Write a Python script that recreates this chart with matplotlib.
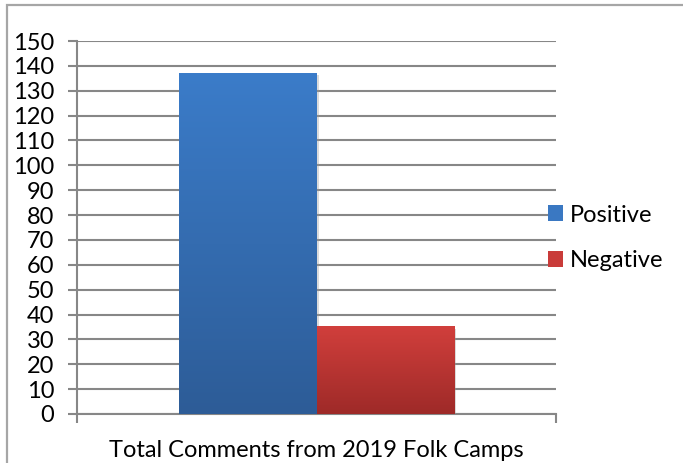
import numpy as np
import matplotlib
matplotlib.use('Agg')
import matplotlib.pyplot as plt
from matplotlib.patches import Patch, Rectangle
from matplotlib.colors import LinearSegmentedColormap
import matplotlib.patheffects as pe

# Datos del grafico
categoria = 'Total Comments from 2019 Folk Camps'
series = ['Positive', 'Negative']
valores = [137, 35]
colores_top = ['#3b7cc9', '#d13f3c']
colores_bottom = ['#2d5c97', '#9e2a28']
colores_legend = ['#3a78c2', '#c93b39']

plt.rcParams['font.family'] = ['Lato', 'DejaVu Sans']

fig = plt.figure(figsize=(6.83, 4.63), dpi=100)
ax = fig.add_axes([77 / 683, 1 - 414 / 463, 479 / 683, 373 / 463])

# Marco exterior del grafico
fig.patches.append(Rectangle((7 / 683, -0.1), 1.2, 0.1 + 1 - 5 / 463,
                             transform=fig.transFigure, fill=False,
                             edgecolor='#a6a6a6', linewidth=1.6))

# Barras con gradiente vertical
ancho = 0.5
posiciones = [-0.25, 0.25]
for pos, val, ctop, cbot in zip(posiciones, valores, colores_top, colores_bottom):
    bar = ax.bar(pos, val, width=ancho, color=cbot, linewidth=0, zorder=3,
                 path_effects=[pe.SimplePatchShadow(offset=(1.5, -1.5), shadow_rgbFace='#999999', alpha=0.35),
                               pe.Normal()])[0]
    cmap = LinearSegmentedColormap.from_list('g', [cbot, ctop])
    grad = np.linspace(0, 1, 256).reshape(-1, 1)
    im = ax.imshow(grad, cmap=cmap, aspect='auto', origin='lower',
                   extent=[pos - ancho / 2, pos + ancho / 2, 0, val], zorder=4)

ax.set_xlim(-0.874, 0.874)
ax.set_ylim(0, 150)
ax.set_yticks(range(0, 151, 10))
ax.set_xticks([-0.874, 0.874])
ax.set_xticklabels(['', ''])
ax.yaxis.grid(True, color='#878787', linewidth=1.5, zorder=0)
ax.set_axisbelow(True)

for s in ['top', 'right']:
    ax.spines[s].set_visible(False)
for s in ['left', 'bottom']:
    ax.spines[s].set_color('#878787')
    ax.spines[s].set_linewidth(1.5)
ax.tick_params(axis='both', color='#878787', width=1.5, length=6.5, labelsize=17)
ax.tick_params(axis='y', pad=10)

ax.set_xlabel(categoria, fontsize=17, labelpad=9)

handles = [Patch(facecolor=c, edgecolor='none') for c in colores_legend]
ax.legend(handles, series, loc='center left', bbox_to_anchor=(0.983, 0.472),
          frameon=False, fontsize=17, handlelength=0.65, handleheight=0.65,
          handletextpad=0.3, labelspacing=1.05, borderpad=0, borderaxespad=0)

fig.savefig('out.png', dpi=100)
